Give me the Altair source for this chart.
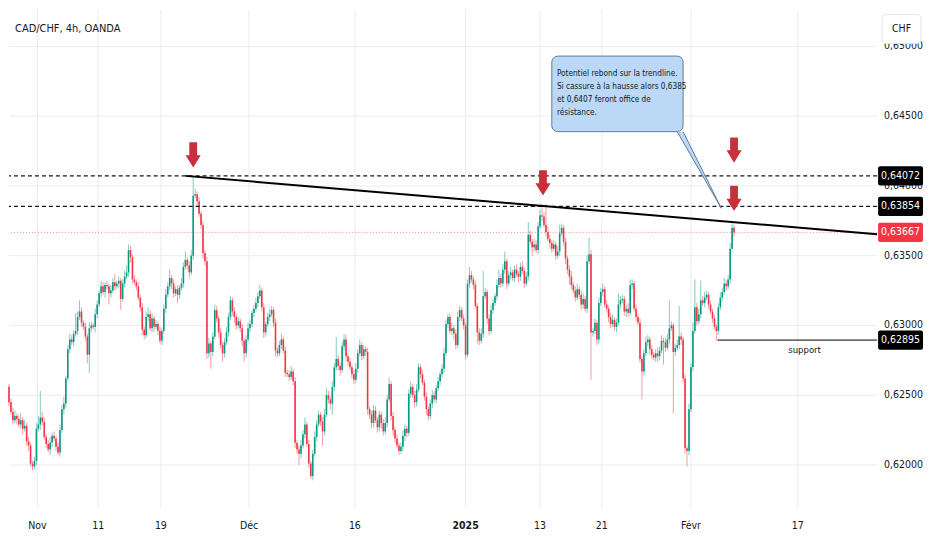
import altair as alt
import pandas as pd

FONT = "Liberation Sans Narrow, DejaVu Sans Condensed, Arial Narrow, sans-serif"
W, H = 870, 500
GREEN, RED = "#089981", "#f23645"
INK = "#131722"
GRID = "#e9ecf2"
ARROW_RED = "#c9303b"
NOTE_FILL = "#bbd9f7"
NOTE_STROKE = "#5f7d99"

# ---- candle data (price x 1e5), one candle per slot ----
first_open = 62560
closes = [
    62450, 62380, 62320, 62350, 62330, 62290, 62320, 62260, 62280, 62170,
    62140, 62010, 61990, 62030, 62260, 62290, 62340, 62310, 62200, 62150,
    62110, 62160, 62210, 62190, 62130, 62090, 62250, 62400, 62440, 62620,
    62830, 62900, 62880, 62940, 62960, 63060, 63100, 63020, 62990, 62920,
    62790, 62980, 63000, 62990, 63080, 63150, 63230, 63280, 63240, 63290,
    63280, 63230, 63250, 63310, 63280, 63300, 63320, 63190, 63300, 63350,
    63380, 63540, 63490, 63330, 63310, 63280, 63200, 63130, 62970, 62930,
    63060, 63080, 62980, 63050, 62990, 63010, 62960, 62890,
    62960, 63120, 63220, 63280, 63340, 63300, 63230, 63260, 63220, 63270,
    63300, 63420, 63470, 63430, 63380, 63500, 63930, 63940, 63890, 63800,
    63720, 63520, 63460, 62800, 62870, 62810, 62920, 63110, 63050, 62950,
    62860, 62800, 62880, 62950, 63060, 63180, 63100, 63060, 63000, 63030,
    62980, 62890, 62800, 62900, 62980, 63010, 63090, 63120, 63160, 63210,
    63250, 63130, 62950, 63010, 63060, 63080, 63110, 63020, 62820, 62800,
    62860, 62900, 62820, 62660, 62650, 62630, 62670, 62600, 62160, 62110,
    62080, 62140, 62220, 62290, 62150, 62010, 61920, 62080, 62200, 62290,
    62360, 62310, 62240, 62360, 62500, 62470, 62440, 62560, 62700, 62760,
    62710, 62680, 62850, 62900, 62780, 62740, 62700, 62650, 62610, 62690,
    62800, 62860, 62780, 62830, 62810, 62400, 62360, 62300, 62390, 62320,
    62270, 62360, 62300, 62240, 62300, 62470, 62580, 62350, 62250, 62190,
    62140, 62100, 62130, 62210, 62260, 62230, 62510, 62560, 62500, 62450,
    62540, 62700, 62650, 62590, 62490, 62400, 62350, 62440, 62500, 62470,
    62550, 62600, 62650, 62690, 62800, 63010, 63060, 62960, 62980, 62940,
    62860, 63060, 63110, 63050, 63000, 62790, 63300, 63360,
    63330, 63290, 63140, 62950, 62890, 62940, 63210, 63240, 63050, 62960,
    63110, 63160, 63210, 63290, 63340, 63300, 63400, 63460, 63300, 63360,
    63380, 63340, 63400, 63370, 63350, 63420, 63390, 63300, 63350, 63650,
    63600, 63560, 63580, 63540, 63710, 63790, 63780, 63720, 63670, 63620,
    63590, 63550, 63580, 63500, 63530, 63660, 63700, 63600, 63480, 63400,
    63350, 63290, 63250, 63200, 63260, 63220, 63150, 63190, 63120, 63460,
    63510, 62950, 62960, 63020, 62900, 63160, 63240, 63260, 63150, 63120,
    63060, 63010, 63040, 62990, 63020, 63150, 63180,
    63190, 63100, 63120, 63090, 63290, 63300, 63120, 63060, 63020, 62760,
    62670, 62800, 62880, 62900, 62830, 62790, 62770, 62800, 62780, 62820,
    62890, 62880, 62840, 62900, 62980, 63000, 62810, 62840, 62860, 62920,
    62900, 62620, 62120, 62100, 62400, 62700, 62960, 63130, 63030, 63080,
    63180, 63160, 63200, 63220, 63150, 63100, 63050, 62990, 62960, 63130,
    63200, 63240, 63300, 63280, 63330, 63550, 63700, 63667,
]
wick_up = [
    20, 25, 30, 40, 20, 30, 50, 20, 40, 20,
    30, 20, 20, 30, 40, 60, 190, 40, 30, 20,
    30, 40, 20, 30, 20, 30, 40, 30, 50, 20,
    30, 40, 30, 20, 130, 40, 80, 30, 20, 30,
    20, 40, 30, 20, 40, 30, 20, 40, 30, 20,
    30, 20, 40, 30, 60, 20, 30, 20, 30, 40,
    50, 40, 30, 20, 30, 20, 30, 20, 30, 20,
    40, 50, 30, 40, 20, 30, 20, 30,
    20, 30, 40, 30, 60, 20, 30, 20, 30, 20,
    40, 30, 60, 20, 30, 40, 130, 40, 20, 30,
    20, 30, 20, 30, 40, 20, 30, 40, 30, 20,
    30, 20, 30, 40, 30, 30, 20, 30, 20, 30,
    20, 30, 20, 30, 40, 30, 20, 30, 40, 30,
    40, 20, 30, 20, 30, 40, 30, 20, 30, 20,
    30, 40, 20, 30, 20, 30, 40, 20, 30, 20,
    30, 40, 30, 50, 20, 30, 20, 30, 40, 30,
    30, 20, 30, 40, 50, 30, 20, 40, 30, 160,
    30, 20, 30, 40, 30, 20, 30, 20, 30, 40,
    30, 40, 20, 30, 20, 30, 20, 30, 40, 30,
    20, 30, 20, 30, 40, 30, 45, 20, 30, 20,
    30, 20, 30, 40, 30, 20, 30, 40, 20, 30,
    40, 30, 20, 30, 20, 30, 20, 30, 40, 30,
    20, 30, 20, 30, 40, 30, 20, 30, 40, 20,
    30, 40, 30, 20, 30, 20, 30, 60,
    30, 20, 30, 20, 30, 40, 180, 30, 20, 30,
    40, 30, 20, 40, 60, 30, 40, 70, 20, 30,
    40, 20, 30, 40, 20, 30, 40, 20, 30, 90,
    30, 20, 40, 30, 30, 40, 80, 30, 150, 40,
    30, 20, 30, 20, 40, 60, 30, 20, 30, 20,
    30, 40, 20, 30, 40, 20, 30, 40, 20, 40,
    120, 30, 20, 30, 20, 40, 30, 40, 20, 30,
    20, 30, 40, 20, 30, 80, 30,
    30, 20, 30, 40, 40, 30, 20, 30, 20, 30,
    20, 30, 40, 30, 20, 30, 20, 30, 40, 30,
    40, 20, 30, 40, 200, 30, 20, 30, 40, 220,
    30, 20, 30, 20, 40, 30, 60, 200, 30, 40,
    140, 30, 40, 30, 20, 30, 20, 30, 20, 30,
    40, 30, 40, 30, 30, 40, 50, 20,
]
wick_dn = [
    30, 20, 30, 20, 40, 20, 30, 40, 20, 30,
    40, 20, 30, 20, 30, 20, 40, 30, 20, 30,
    20, 40, 30, 20, 30, 20, 30, 20, 40, 30,
    20, 30, 20, 30, 20, 30, 20, 30, 20, 30,
    60, 130, 30, 20, 40, 30, 20, 30, 20, 40,
    20, 80, 30, 20, 30, 20, 30, 80, 20, 30,
    20, 30, 40, 30, 20, 30, 20, 30, 40, 30,
    20, 30, 20, 30, 40, 20, 30, 20,
    30, 20, 30, 20, 30, 40, 30, 20, 60, 30,
    20, 30, 20, 30, 40, 20, 30, 20, 30, 20,
    30, 40, 30, 40, 30, 120, 30, 20, 30, 40,
    30, 60, 30, 20, 30, 20, 30, 40, 30, 20,
    30, 40, 60, 30, 20, 30, 20, 30, 20, 30,
    20, 30, 40, 30, 20, 30, 20, 30, 40, 30,
    20, 30, 20, 30, 20, 30, 20, 30, 40, 30,
    80, 30, 20, 30, 20, 30, 20, 30, 20, 30,
    20, 30, 100, 30, 20, 30, 40, 80, 30, 20,
    30, 40, 20, 30, 40, 30, 20, 30, 30, 20,
    30, 20, 30, 20, 30, 40, 30, 40, 30, 20,
    40, 30, 40, 30, 20, 30, 20, 30, 40, 30,
    20, 30, 20, 30, 40, 30, 20, 30, 20, 40,
    30, 20, 30, 20, 30, 40, 30, 20, 30, 20,
    30, 20, 30, 20, 30, 20, 30, 20, 30, 40,
    30, 20, 30, 20, 30, 30, 20, 30,
    20, 30, 20, 80, 30, 20, 30, 20, 40, 30,
    20, 30, 20, 30, 20, 30, 20, 30, 40, 20,
    30, 20, 30, 20, 40, 30, 20, 30, 20, 30,
    20, 60, 30, 20, 30, 20, 30, 20, 30, 20,
    40, 30, 20, 30, 20, 30, 20, 30, 40, 30,
    60, 30, 20, 30, 20, 30, 40, 30, 20, 30,
    20, 340, 30, 20, 40, 30, 20, 30, 20, 30,
    40, 30, 20, 30, 40, 20, 30,
    20, 30, 40, 30, 20, 30, 20, 30, 20, 30,
    200, 30, 20, 30, 40, 30, 20, 30, 40, 30,
    20, 160, 30, 20, 30, 20, 440, 30, 20, 30,
    40, 30, 40, 110, 30, 20, 30, 20, 30, 20,
    30, 20, 30, 20, 30, 20, 30, 20, 65, 30,
    20, 30, 20, 30, 20, 30, 20, 30,
]

# ---- axis / annotation data ----
tick_pos = [14.5, 45.5, 77.5, 122.5, 176.5, 233, 271, 302.5, 348, 402.5]
tick_labels = ["Nov", "11", "19", "Déc", "16", "2025", "13", "21", "Févr", "17"]
bold_labels = ["2025"]
y_ticks = [0.620, 0.625, 0.630, 0.635, 0.640, 0.645, 0.650]
y_tick_labels = ["0,62000", "0,62500", "0,63000", "0,63500", "0,64000", "0,64500", "0,65000"]

level_prices = [0.64072, 0.63854]
last_price = 0.63667
support_price = 0.62895
tag_prices = [0.64072, 0.63854, 0.63667, 0.62895]
tag_labels = ["0,64072", "0,63854", "0,63667", "0,62895"]
tag_fills = ["#000000", "#000000", RED, "#000000"]

trend_x = [90, 443]
trend_y = [0.64072, 0.63654]
support_x = [361.5, 443]
support_text_x, support_text_y = 406, 0.62826

arrow_x = [94, 272.5, 370, 370]
arrow_y = [0.64222, 0.64021, 0.64257, 0.63910]

note_lines = [
    "Potentiel rebond sur la trendline.",
    "Si cassure à la hausse alors 0,6385",
    "et 0,6407 feront office de",
    "résistance.",
]
note_y = [0.647986, 0.647083, 0.646181, 0.645208]
note_x = 279.6
box_x = [277, 344]
box_y = [0.649306, 0.643889]
pointer_x = [341, 344, 363.5]
pointer_top = [0.643889, 0.643889, 0.63840]
pointer_bot = [0.643889, 0.643157, 0.63840]

# ---- build tables ----
opens = [first_open] + closes[:-1]
rows = []
for i, (o, c, wu, wd) in enumerate(zip(opens, closes, wick_up, wick_dn)):
    rows.append({
        "i": i, "o": o / 1e5, "c": c / 1e5,
        "h": (max(o, c) + wu) / 1e5, "l": (min(o, c) - wd) / 1e5,
        "col": GREEN if c >= o else RED,
    })
candles = pd.DataFrame(rows)

xs = alt.Scale(domain=[0, 443], nice=False, zero=False)
ys = alt.Scale(domain=[0.61688, 0.65264], nice=False, zero=False)


def X(f):
    return alt.X(f, scale=xs, axis=None)


def Y(f):
    return alt.Y(f, scale=ys, axis=None)


ticks_df = pd.DataFrame({"p": tick_pos, "lab": tick_labels,
                         "bold": [t in bold_labels for t in tick_labels]})
yt_df = pd.DataFrame({"p": y_ticks, "lab": y_tick_labels})
one = pd.DataFrame({"k": [0]})

vgrid = alt.Chart(ticks_df).mark_rule(color=GRID, strokeWidth=1).encode(x=X("p:Q"))
hgrid = alt.Chart(yt_df).mark_rule(color=GRID, strokeWidth=1).encode(y=Y("p:Q"))
ylab = alt.Chart(yt_df).mark_text(
    align="left", baseline="middle", font=FONT, fontSize=10.5, color=INK
).encode(x=alt.value(W + 7), y=Y("p:Q"), text="lab:N")

lastline = alt.Chart(pd.DataFrame({"p": [last_price]})).mark_rule(
    color=RED, strokeDash=[1, 2], strokeWidth=1, opacity=0.6
).encode(y=Y("p:Q"))

wicks = alt.Chart(candles).mark_rule(strokeWidth=1, opacity=0.5).encode(
    x=X("i:Q"), y=Y("l:Q"), y2="h:Q",
    color=alt.Color("col:N", scale=None),
)
bodies = alt.Chart(candles).mark_rule(strokeWidth=1.6).encode(
    x=X("i:Q"), y=Y("o:Q"), y2="c:Q", color=alt.Color("col:N", scale=None),
)

levels = alt.Chart(pd.DataFrame({"p": level_prices})).mark_rule(
    color=INK, strokeDash=[4, 3], strokeWidth=1.2
).encode(y=Y("p:Q"))

trend = alt.Chart(pd.DataFrame({"x": trend_x, "y": trend_y})).mark_line(
    color="#000000", strokeWidth=2
).encode(x=X("x:Q"), y=Y("y:Q"))

support = alt.Chart(pd.DataFrame({"x": support_x, "y": [support_price] * 2})).mark_line(
    color="#000000", strokeWidth=1
).encode(x=X("x:Q"), y=Y("y:Q"))

support_txt = alt.Chart(pd.DataFrame({"x": [support_text_x], "y": [support_text_y], "t": ["support"]})).mark_text(
    font=FONT, fontSize=9.5, color=INK
).encode(x=X("x:Q"), y=Y("y:Q"), text="t:N")

ARROW = "M-0.31,-1 L0.31,-1 L0.31,0.02 L0.6,0.02 L0,1 L-0.6,0.02 L-0.31,0.02 Z"
arrows = alt.Chart(pd.DataFrame({"x": arrow_x, "y": arrow_y})).mark_point(
    shape=ARROW, filled=True, fill=ARROW_RED, color=ARROW_RED, size=640,
    opacity=1, strokeWidth=0
).encode(x=X("x:Q"), y=Y("y:Q"))

note_box = alt.Chart(pd.DataFrame({"x1": [box_x[0]], "x2": [box_x[1]],
                                   "y1": [box_y[0]], "y2": [box_y[1]]})).mark_rect(
    fill=NOTE_FILL, stroke=NOTE_STROKE, strokeWidth=1, cornerRadius=6
).encode(x=X("x1:Q"), x2="x2:Q", y=Y("y1:Q"), y2="y2:Q")

pointer_fill = alt.Chart(pd.DataFrame({"x": pointer_x, "t": pointer_top, "b": pointer_bot})).mark_area(
    color=NOTE_FILL, opacity=1
).encode(x=X("x:Q"), y=Y("t:Q"), y2="b:Q")

pointer_edge = alt.Chart(pd.DataFrame({
    "x": [pointer_x[0], pointer_x[2], pointer_x[1]],
    "y": [pointer_top[0], pointer_top[2], pointer_top[1]],
    "k": [0, 1, 2]})).mark_line(color=NOTE_STROKE, strokeWidth=1).encode(
    x=X("x:Q"), y=Y("y:Q"), order="k:Q")

note_txt = alt.Chart(pd.DataFrame({"x": [note_x] * len(note_lines), "y": note_y, "t": note_lines})).mark_text(
    align="left", baseline="middle", font=FONT, fontSize=8.2, color=INK
).encode(x=X("x:Q"), y=Y("y:Q"), text="t:N")

tags_df = pd.DataFrame({"p": tag_prices, "lab": tag_labels, "fill": tag_fills})
tag_rects = alt.Chart(tags_df).transform_calculate(
    top="datum.p + 0.00069", bot="datum.p - 0.00069"
).mark_rect(cornerRadius=2).encode(
    x=alt.value(W + 1), x2=alt.value(W + 46),
    y=Y("top:Q"), y2="bot:Q", fill=alt.Color("fill:N", scale=None),
)
tag_text = alt.Chart(tags_df).mark_text(
    color="white", font=FONT, fontSize=10.5, align="center", baseline="middle"
).encode(x=alt.value(W + 23.5), y=Y("p:Q"), text="lab:N")

chf_box = alt.Chart(one).mark_rect(fill="white", stroke="#e0e3eb", strokeWidth=1, cornerRadius=4).encode(
    x=alt.value(W + 5), x2=alt.value(W + 44), y=alt.value(5), y2=alt.value(34))
chf_txt = alt.Chart(one).mark_text(font=FONT, fontSize=10.5, color=INK).encode(
    x=alt.value(W + 24.5), y=alt.value(19.5), text=alt.value("CHF"))

title = alt.Chart(one).mark_text(align="left", baseline="middle", font=FONT, fontSize=11, color=INK).encode(
    x=alt.value(6), y=alt.value(19), text=alt.value("CAD/CHF, 4h, OANDA"))

xlab = alt.Chart(ticks_df).transform_filter("!datum.bold").mark_text(
    baseline="middle", font=FONT, fontSize=10.5, color=INK
).encode(x=X("p:Q"), y=alt.value(H + 17.5), text="lab:N")
xlab_bold = alt.Chart(ticks_df).transform_filter("datum.bold").mark_text(
    baseline="middle", font=FONT, fontSize=10.5, color=INK, fontWeight="bold"
).encode(x=X("p:Q"), y=alt.value(H + 17.5), text="lab:N")

chart = alt.layer(
    vgrid, hgrid, ylab, lastline, wicks, bodies, levels, trend, support, support_txt,
    arrows, note_box, pointer_fill, pointer_edge, note_txt,
    tag_rects, tag_text, chf_box, chf_txt, title, xlab, xlab_bold,
).properties(width=W, height=H, padding=0, background="white").configure_view(stroke=None)

chart.save("out.html", embed_options={"renderer": "svg", "actions": False})
